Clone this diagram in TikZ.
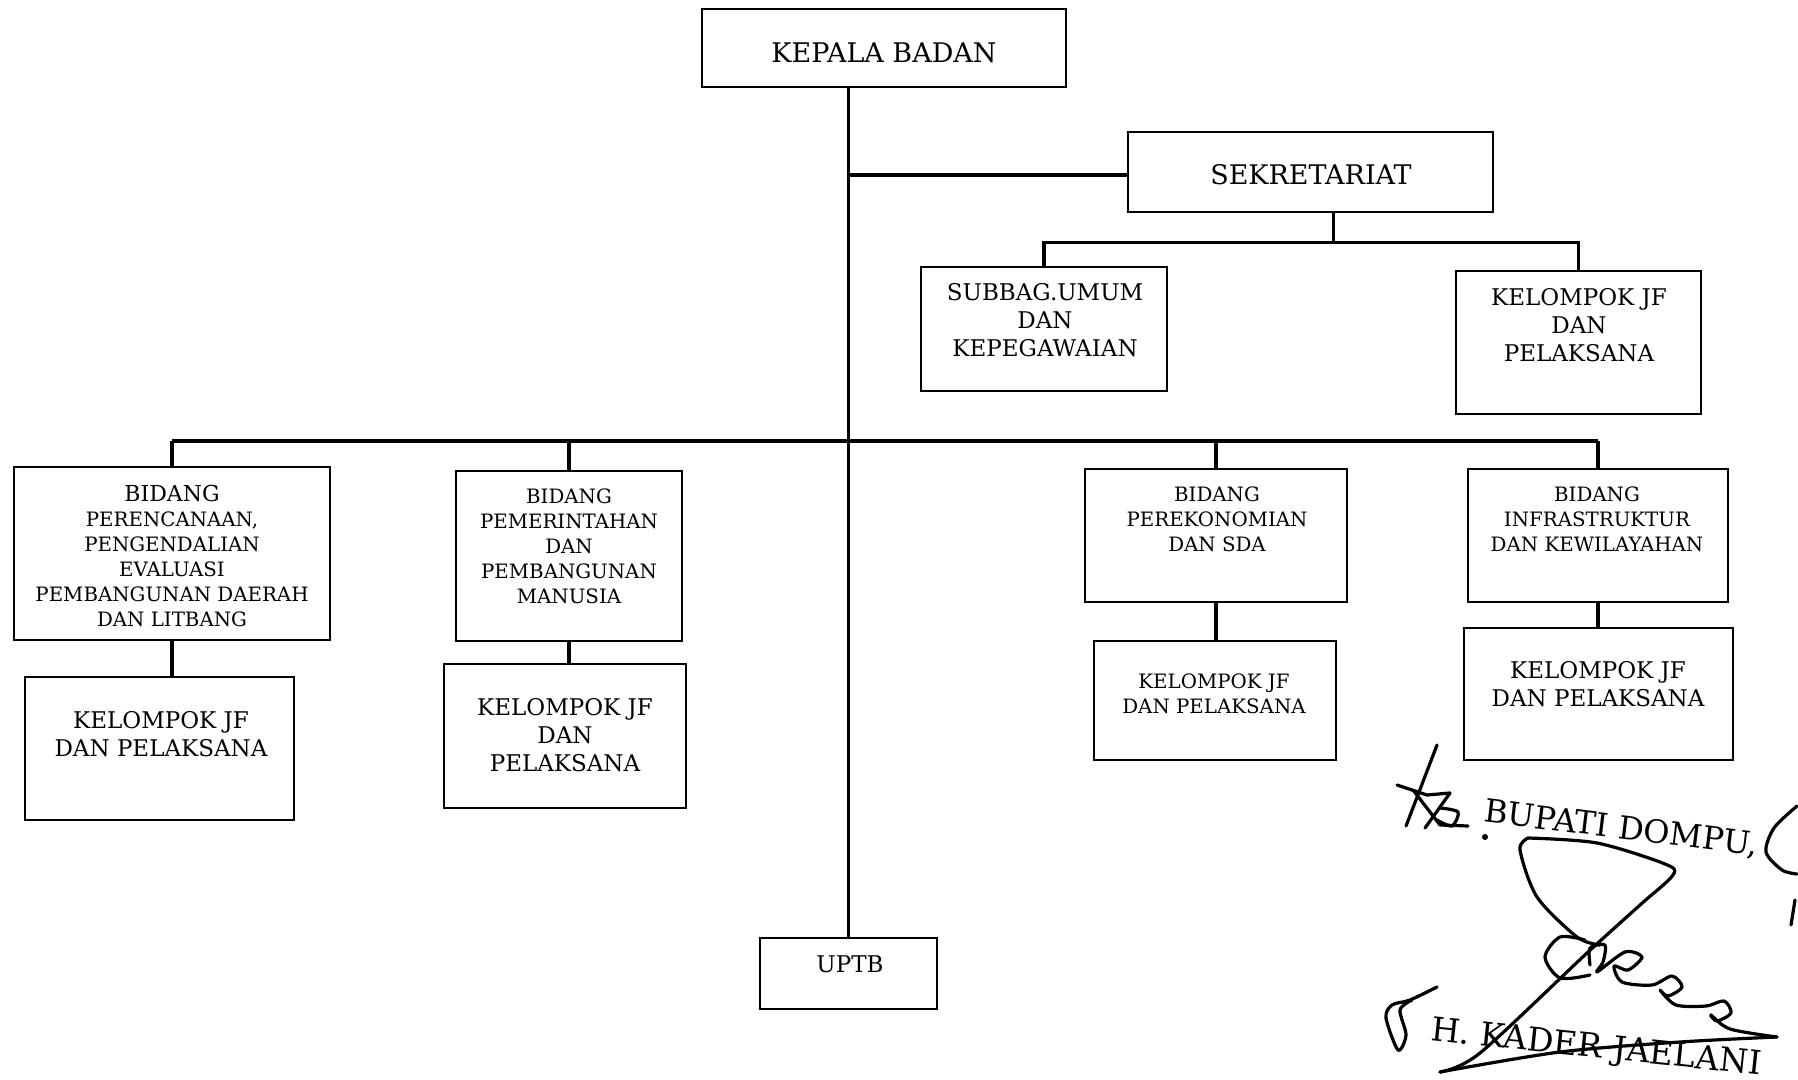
\documentclass[tikz,border=0pt]{standalone}
\usepackage{fontspec}
\setmainfont{DejaVu Serif}
\usetikzlibrary{fit}

\tikzset{
  orgbox/.style={draw, line width=1.3pt, inner sep=0pt},
  link/.style={line width=1.6pt},
  txtl/.style={font=\fontsize{13.5}{16}\selectfont, align=center},
  txtm/.style={font=\fontsize{11.5}{14}\selectfont, align=center},
  txts/.style={font=\fontsize{9.9}{12.5}\selectfont, align=center},
  pen/.style={line width=1.6pt, line cap=round, line join=round},
}

\begin{document}
\begin{tikzpicture}[x=0.5pt, y=-0.5pt]
    \useasboundingbox (0,0) rectangle (1798,1080);

    % Boxes, corners (pixels)
    \node[orgbox, fit={(702,9) (1066,87)}] (kepala) {};
    \node[orgbox, fit={(1128,132) (1493,212)}] (sekr) {};
    \node[orgbox, fit={(921,267) (1167,391)}] (subbag) {};
    \node[orgbox, fit={(1456,271) (1701,414)}] (kjfsek) {};
    \node[orgbox, fit={(14,467) (330,640)}] (bid1) {};
    \node[orgbox, fit={(25,677) (294,820)}] (kjf1) {};
    \node[orgbox, fit={(456,471) (682,641)}] (bid2) {};
    \node[orgbox, fit={(444,664) (686,808)}] (kjf2) {};
    \node[orgbox, fit={(1085,469) (1347,602)}] (bid3) {};
    \node[orgbox, fit={(1094,641) (1336,760)}] (kjf3) {};
    \node[orgbox, fit={(1468,469) (1728,602)}] (bid4) {};
    \node[orgbox, fit={(1464,628) (1733,760)}] (kjf4) {};
    \node[orgbox, fit={(760,938) (937,1009)}] (uptb) {};

    % Texts
    \node[txtl] (kepalatx) at (884,53) {KEPALA BADAN};
    \node[txtl] (sekrtx) at (1311,175) {SEKRETARIAT};
    \node[txtm] (subbagtx) at (1045,320) {SUBBAG.UMUM\\DAN\\KEPEGAWAIAN};
    \node[txtm] (kjfsektx) at (1579,325) {KELOMPOK JF\\DAN\\PELAKSANA};
    \node[txts] (bid1tx) at (172,556) {{\fontsize{11}{12.5}\selectfont BIDANG}\\PERENCANAAN,\\PENGENDALIAN\\EVALUASI\\PEMBANGUNAN DAERAH\\DAN LITBANG};
    \node[txtm] (kjf1tx) at (161,734) {KELOMPOK JF\\DAN PELAKSANA};
    \node[txts] (bid2tx) at (569,546) {BIDANG\\PEMERINTAHAN\\DAN\\PEMBANGUNAN\\MANUSIA};
    \node[txtm] (kjf2tx) at (565,735) {KELOMPOK JF\\DAN\\PELAKSANA};
    \node[txts] (bid3tx) at (1217,519) {BIDANG\\PEREKONOMIAN\\DAN SDA};
    \node[txts] (kjf3tx) at (1214,694) {KELOMPOK JF\\DAN PELAKSANA};
    \node[txts] (bid4tx) at (1597,519) {BIDANG\\INFRASTRUKTUR\\DAN KEWILAYAHAN};
    \node[txtm] (kjf4tx) at (1598,684) {KELOMPOK JF\\DAN PELAKSANA};
    \node[txtm] (uptbtx) at (850,964) {UPTB};

    % trunk + sekretariat
    \draw[link] (uptb.north |- kepala.south) -- (uptb.north);
    \draw[link] (uptb.north |- sekr.west) ++(0,3) -- ([yshift=-1.5pt]sekr.west);
    \draw[link] ([xshift=11.5pt]sekr.south) -- ++(0,29) coordinate (sekbus);
    \draw[link] (subbag.north) |- (sekbus) -| (kjfsek.north);

    % bidang bus
    \coordinate (bus) at (849,441);
    \draw[link] (bid1.north |- bus) -- (bid4.north |- bus);
    \foreach \b in {bid1,bid2,bid3,bid4}
        \draw[link] (\b.north |- bus) -- (\b.north);
    \foreach \b/\k in {bid1/kjf1,bid2/kjf2,bid3/kjf3,bid4/kjf4}
        \draw[link] (\b.south) -- (\b.south |- \k.north);

    % signature block
    \node[font=\fontsize{16}{18}\selectfont, rotate=-7] (bupati) at (1621,829) {BUPATI DOMPU,};
    \node[font=\fontsize{16.5}{18}\selectfont, rotate=-6] (nama) at (1596,1049) {H. KADER JAELANI};
    \fill (1485,837) circle (3);
    \draw[pen] (1437,745) -- (1406,826);
    \draw[pen] (1397,785) -- (1427,795) -- (1450,793) -- (1425,828);
    \draw[pen] (1413,790) -- (1440,825) -- (1468,826);
    \draw[pen] plot[smooth] coordinates {(1440,808) (1458,812) (1452,826) (1437,820)};
    \draw[pen] plot[smooth] coordinates {(1528,838) (1520,850) (1537,897) (1577,937) (1600,945)};
    \draw[pen] plot[smooth] coordinates {(1528,838) (1597,843) (1665,864) (1673,875) (1640,905) (1587,953) (1480,1053) (1440,1072)};
    \draw[pen] plot[smooth] coordinates {(1585,940) (1560,937) (1545,957) (1560,978) (1590,975)};
    \draw[pen] plot[smooth] coordinates {(1590,965) (1590,948) (1605,945) (1603,962) (1597,972) (1625,952) (1642,957) (1628,970) (1614,966) (1622,982) (1652,985) (1672,976) (1682,987) (1668,996) (1660,990) (1676,1005) (1706,1006) (1724,1001) (1731,1013) (1717,1021) (1711,1015) (1730,1029) (1777,1037)};
    \draw[pen] plot[smooth] coordinates {(1440,1072) (1560,1052) (1680,1042) (1777,1037)};
    \draw[pen] plot[smooth] coordinates {(1797,806) (1774,828) (1766,852) (1782,870) (1797,874)};
    \draw[pen] (1795,900) -- (1791,925);
    \draw[pen] plot[smooth] coordinates {(1437,987) (1410,1000) (1392,1005) (1386,1018) (1398,1050) (1406,1035) (1400,1010) (1412,1000)};
\end{tikzpicture}
\end{document}
